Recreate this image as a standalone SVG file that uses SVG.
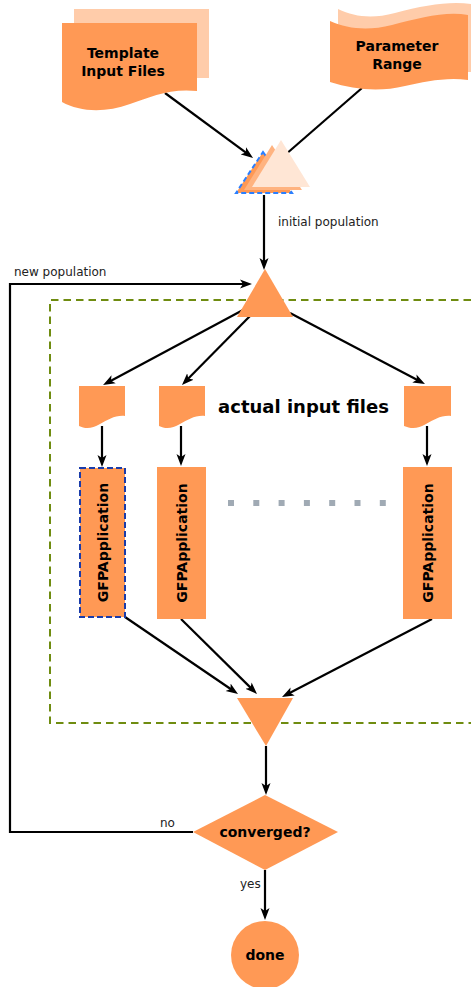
<svg xmlns="http://www.w3.org/2000/svg" width="471" height="987" viewBox="0 0 471 987">
  <defs>
    <marker id="arrow" viewBox="0 0 12 10" refX="4" refY="5" markerWidth="12" markerHeight="10" markerUnits="userSpaceOnUse" orient="auto">
      <path d="M0,0.5 L12,5 L0,9.5 L3,5 Z" fill="#000"/>
    </marker>
  </defs>
  <style>
    .shape { fill: #ff9955; }
    .pale { fill: #ffccaa; }
    .lbl { font-family: "DejaVu Sans", "Noto Sans", sans-serif; font-weight: bold; fill: #000; text-anchor: middle; }
    .small { font-family: "DejaVu Sans", "Noto Sans", sans-serif; font-size: 12px; fill: #222; }
    .edge { fill: none; stroke: #000; stroke-width: 2.2; }
    .arr { marker-end: url(#arrow); }
  </style>

  <rect width="471" height="987" fill="#fff"/>

  <!-- iteration frame -->
  <path d="M471,300 H50 V723 H471" fill="none" stroke="#6f8c10" stroke-width="2" stroke-dasharray="7.5,5"/>

  <!-- connectors -->
  <g id="connectors">
    <line class="edge arr" x1="165" y1="93" x2="246.6" y2="153.2"/>
    <line class="edge" x1="362" y1="88" x2="285" y2="155"/>
    <line class="edge arr" x1="264" y1="195" x2="264" y2="262"/>
    <path class="edge arr" d="M193,832 H10 V284 H244"/>
    <line class="edge arr" x1="243" y1="310" x2="110.1" y2="381.2"/>
    <line class="edge arr" x1="250" y1="316" x2="187.6" y2="379.3"/>
    <line class="edge arr" x1="290" y1="313" x2="417.9" y2="380.3"/>
    <line class="edge arr" x1="102" y1="426" x2="102" y2="459"/>
    <line class="edge arr" x1="181" y1="426" x2="181" y2="458"/>
    <line class="edge arr" x1="427" y1="426" x2="427" y2="458"/>
    <line class="edge arr" x1="125" y1="617" x2="231.4" y2="689.5"/>
    <line class="edge arr" x1="181" y1="619" x2="251.3" y2="688.4"/>
    <line class="edge arr" x1="432" y1="619" x2="289.1" y2="693.3"/>
    <line class="edge arr" x1="266" y1="746" x2="266" y2="787"/>
    <line class="edge arr" x1="265" y1="870" x2="265" y2="912"/>
    <text class="small" x="278" y="226">initial population</text>
    <text class="small" x="14" y="276">new population</text>
    <text class="small" x="160" y="827">no</text>
    <text class="small" x="240" y="888">yes</text>
  </g>

  <!-- template input files -->
  <g id="template">
    <rect class="pale" x="74" y="9" width="135" height="69"/>
    <path class="shape" d="M62,23 H197 V91 C170,88 150,97 130,104 C105,113 80,112 62,102 Z"/>
    <text class="lbl" font-size="14" x="123" y="58">Template</text>
    <text class="lbl" font-size="14" x="123" y="76">Input Files</text>
  </g>

  <!-- parameter range -->
  <g id="parameters">
    <path class="pale" d="M338,9 C355,17 372,19 395,13 C425,5 450,1 471,4 V72 H338 Z"/>
    <path class="shape" d="M330,21 C348,29 368,31 392,25 C420,18 445,11 468,15 V80 C445,77 425,82 405,86 C380,92 355,90 330,82 Z"/>
    <text class="lbl" font-size="14" x="397" y="51">Parameter</text>
    <text class="lbl" font-size="14" x="397" y="69">Range</text>
  </g>

  <!-- initial population generator -->
  <g id="generator">
    <path d="M263,152 L292,193 L236,193 Z" fill="#ff9955" stroke="#2a7fff" stroke-width="2" stroke-dasharray="5,3"/>
    <path d="M272,145 L302,190 L244,190 Z" fill="#ffb380"/>
    <path d="M281,140 L310,187 L252,187 Z" fill="#ffe6d5"/>
  </g>

  <!-- population split -->
  <g id="split">
    <path class="shape" d="M265,269 L293,317 L237,317 Z"/>
  </g>

  <!-- actual input files -->
  <g id="file1">
    <path class="shape" d="M79,386 H125 V416 C115,415 108,420 100,424 C92,429 85,429 79,426 Z"/>
  </g>
  <g id="file2">
    <path class="shape" d="M159,386 H205 V416 C195,415 188,420 180,424 C172,429 165,429 159,426 Z"/>
  </g>
  <g id="file3">
    <path class="shape" d="M404,386 H451 V416 C441,415 434,420 426,424 C418,429 411,429 404,426 Z"/>
  </g>
  <text class="lbl" font-size="18" x="303.5" y="413">actual input files</text>

  <!-- applications -->
  <g id="app1">
    <rect class="shape" x="80" y="468" width="45" height="149" stroke="#1a3caa" stroke-width="2" stroke-dasharray="6,3"/>
    <text class="lbl" font-size="14" transform="translate(107.5,542.5) rotate(-90)">GFPApplication</text>
  </g>
  <g id="app2">
    <rect class="shape" x="157" y="467" width="49" height="152"/>
    <text class="lbl" font-size="14" transform="translate(186.5,543) rotate(-90)">GFPApplication</text>
  </g>
  <g id="app3">
    <rect class="shape" x="403" y="467" width="49" height="152"/>
    <text class="lbl" font-size="14" transform="translate(432.5,543) rotate(-90)">GFPApplication</text>
  </g>
  <line x1="228" y1="503" x2="386" y2="503" stroke="#a0aab4" stroke-width="6" stroke-dasharray="6,19.3"/>

  <!-- merge -->
  <g id="merge">
    <path class="shape" d="M237,698 L293,698 L266,746 Z"/>
  </g>

  <!-- convergence test -->
  <g id="converged">
    <path class="shape" d="M193,832 L265,795 L338,832 L265,870 Z"/>
    <text class="lbl" font-size="14" x="265" y="837">converged?</text>
  </g>

  <!-- done -->
  <g id="done">
    <circle class="shape" cx="265" cy="955" r="34"/>
    <text class="lbl" font-size="14" x="265" y="960">done</text>
  </g>
</svg>
